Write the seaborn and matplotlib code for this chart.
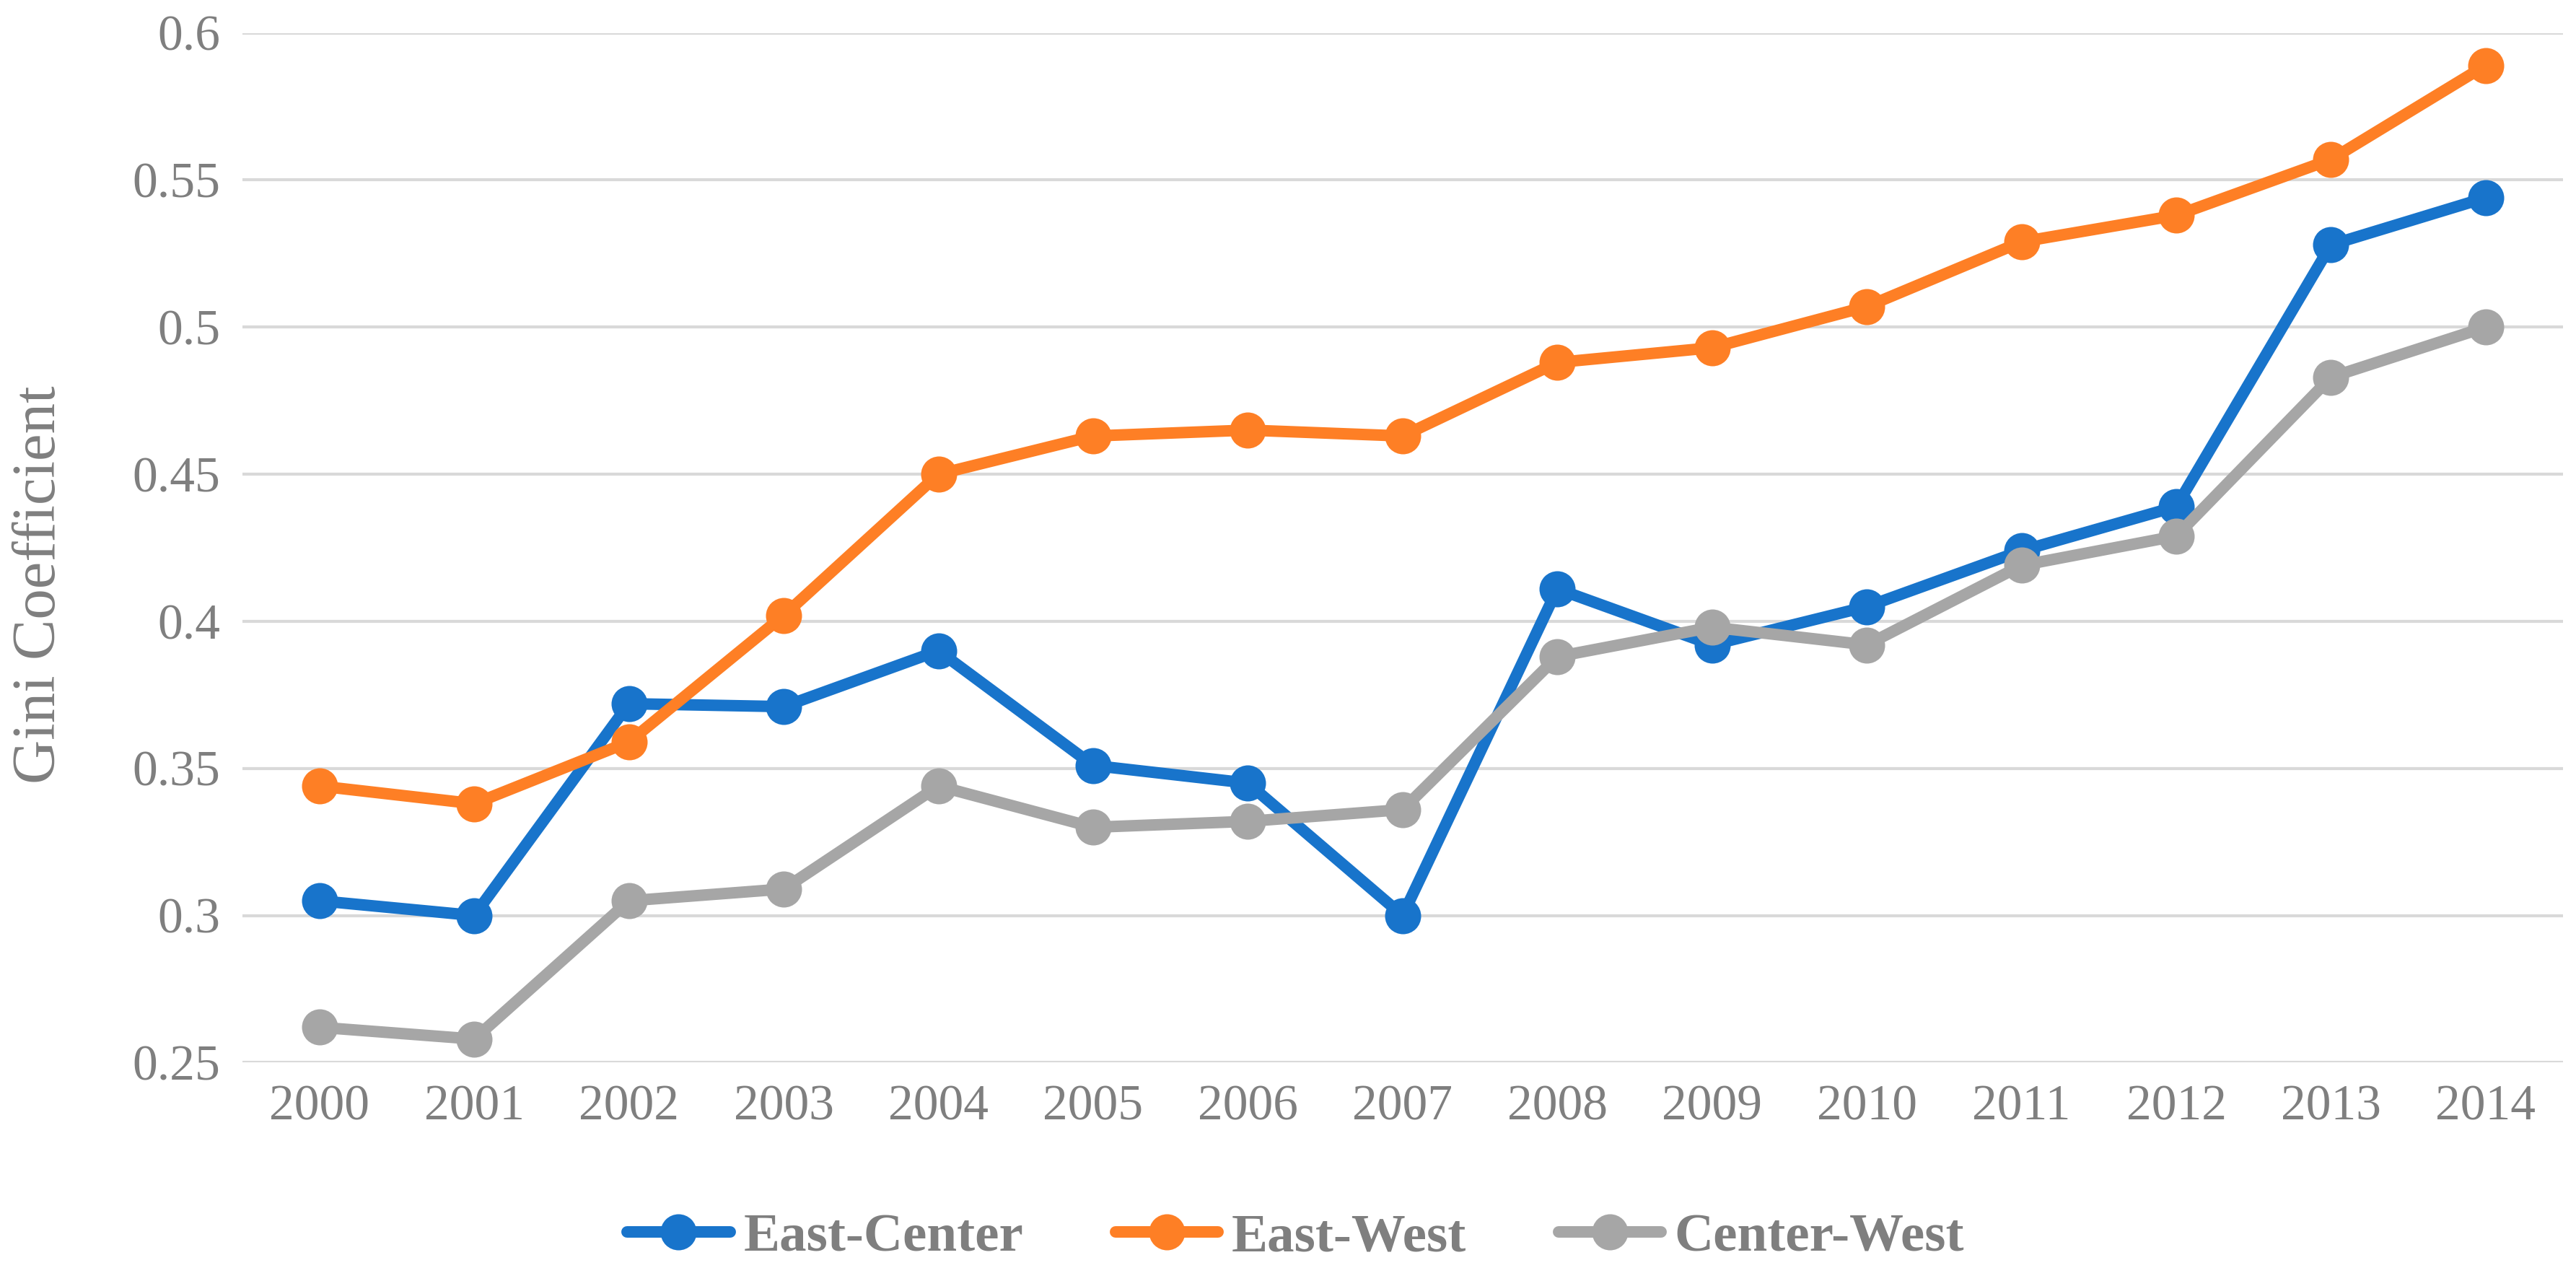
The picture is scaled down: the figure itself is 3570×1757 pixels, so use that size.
import pandas as pd
import matplotlib
matplotlib.use("Agg")
import matplotlib.pyplot as plt
import seaborn as sns

# --- data ---
years = [2000, 2001, 2002, 2003, 2004, 2005, 2006, 2007,
         2008, 2009, 2010, 2011, 2012, 2013, 2014]
east_center = [0.305, 0.300, 0.372, 0.371, 0.390, 0.351, 0.345, 0.300,
               0.411, 0.392, 0.405, 0.424, 0.439, 0.528, 0.544]
east_west = [0.344, 0.338, 0.359, 0.402, 0.450, 0.463, 0.465, 0.463,
             0.488, 0.493, 0.507, 0.529, 0.538, 0.557, 0.589]
center_west = [0.262, 0.258, 0.305, 0.309, 0.344, 0.330, 0.332, 0.336,
               0.388, 0.398, 0.392, 0.419, 0.429, 0.483, 0.500]
series_names = ["East-Center", "East-West", "Center-West"]
colors = ["#1874CB", "#FE7F25", "#A6A6A6"]
y_ticks = [0.25, 0.3, 0.35, 0.4, 0.45, 0.5, 0.55, 0.6]
y_tick_labels = ["0.25", "0.3", "0.35", "0.4", "0.45", "0.5", "0.55", "0.6"]

df = pd.DataFrame({
    "pos": list(range(len(years))) * 3,
    "value": east_center + east_west + center_west,
    "series": [s for s in series_names for _ in years],
})

sns.set_style("white")
plt.rcParams["font.family"] = ["Liberation Serif", "DejaVu Serif"]

fig = plt.figure(figsize=(35.7, 17.57), dpi=100)
ax = fig.add_axes([0.094, 0.162, 0.901, 0.812])

sns.lineplot(data=df, x="pos", y="value", hue="series", hue_order=series_names,
             palette=colors, marker="o", markersize=36, markeredgewidth=0,
             linewidth=11.5, ax=ax, legend=False, zorder=3)

ax.set_xlim(-0.5, len(years) - 0.5)
ax.set_ylim(0.25, 0.6)
ax.set_xticks(range(len(years)))
ax.set_xticklabels([str(y) for y in years])
ax.set_yticks(y_ticks)
ax.set_yticklabels(y_tick_labels)
ax.tick_params(axis="both", labelsize=50, labelcolor="#7F7F7F", length=0, pad=22)
ax.yaxis.grid(True, color="#D9D9D9", linewidth=3)
ax.set_axisbelow(True)
for sp in ax.spines.values():
    sp.set_visible(False)
ax.set_xlabel("")
ax.set_ylabel("Gini Coefficient", fontsize=61, color="#7F7F7F", labelpad=30)
ax.yaxis.set_label_coords(-0.075, 0.464)

handles = [plt.Line2D([], [], color=c, marker="o", markersize=36, linewidth=11.5,
                      markeredgewidth=0) for c in colors]
fig.legend(handles, series_names, loc="lower center", bbox_to_anchor=(0.503, -0.034),
           ncol=3, frameon=False, handlelength=1.9, columnspacing=1.7,
           handletextpad=0.25,
           prop={"size": 54, "weight": "bold", "family": "Liberation Serif"},
           labelcolor="#7F7F7F")

fig.savefig("out.png", dpi=100)
